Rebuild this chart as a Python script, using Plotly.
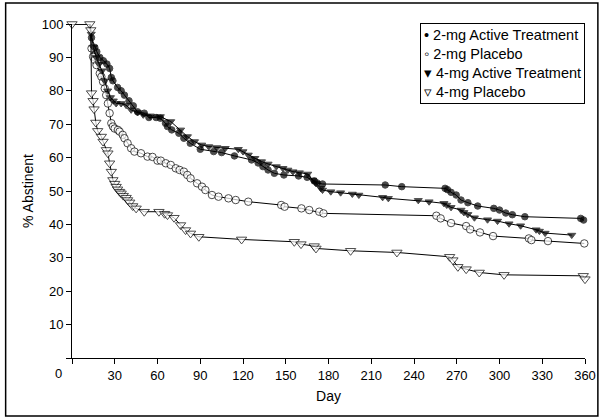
import plotly.graph_objects as go

# ---- data (day, % abstinent) ----
a2_day = [0, 12.5, 13.7, 16, 17.4, 19.5, 22, 24.5, 26.4, 27.6, 28.7, 32, 34.5, 36.8, 40, 43, 46, 50.7, 54, 59,
          62, 65.6, 67, 70, 75, 78.5, 83, 90, 99.4, 105, 114, 126, 130.6, 134, 137.6, 142, 148.7, 159, 165,
          170, 172, 175.8, 219.8, 231.4, 261.8, 263.5, 266, 269.6, 273, 277.8, 284.7, 296, 300, 304.4, 309,
          317.8, 357, 359]
a2_pct = [100, 100, 95.9, 93, 91.7, 90, 89, 88, 86.7, 84, 83, 81, 80, 78.7, 77, 75.5, 73.7, 73.3, 72, 72,
          71.8, 70.3, 69.3, 68.3, 67.3, 65.8, 64.3, 62.5, 61.8, 61.5, 60.5, 59.3, 58.4, 57.3, 56.3, 55.3, 54.8, 54.5, 54.1,
          53, 52.4, 52.1, 51.8, 51.3, 50.8, 50.4, 49.6, 48.8, 47.3, 46.5, 45.5, 44.8, 44.3, 43.4, 42.9,
          42.3, 41.8, 41.3]

p2_day = [0, 12.5, 13.7, 14.8, 16, 17.2, 19.5, 20.6, 21.8, 23, 24, 25.2, 26.4, 27.6, 28.7, 29.9, 32.2, 33.4,
          35.6, 36.8, 39, 41.5, 43.8, 48.4, 53, 56.5, 60, 62.3, 65.8, 69.3, 72.8, 75.5, 78.5, 80.9, 83.2,
          87.8, 91.2, 93.6, 98.2, 102.8, 109.8, 114.9, 123.7, 146.8, 149.2, 161, 166.5, 173.5, 176.5,
          255.7, 258.7, 266, 276.6, 279.4, 286.3, 295.5, 320.6, 322.4, 334, 359.5]
p2_pct = [100, 100, 92.7, 90.2, 89.2, 87.7, 85.2, 84.2, 82.7, 80.7, 78.7, 76.2, 73.3, 70.3, 69.3, 68.7, 68.3, 67.8,
          66.8, 65.8, 64.3, 62.8, 61.8, 61.3, 60.3, 60.2, 59.1, 59.1, 58.3, 57.8, 56.8, 56.3, 55.8, 54.8, 53.8,
          52.3, 51.3, 50.3, 48.8, 48.3, 47.8, 47.3, 46.8, 45.8, 45.3, 44.8, 44.3, 43.8, 43.3,
          42.6, 41.8, 40.4, 39.5, 38.5, 37.6, 36.5, 35.8, 35.3, 35, 34.3]

a4_day = [0, 12.5, 13.5, 15, 17, 19, 21, 23, 25, 27, 29, 31, 34.5, 38, 41.5, 46, 50, 55, 62, 69.3, 76.2, 81,
          86, 91, 96, 101.7, 107.5, 116.7, 120, 123.7, 128.3, 133, 137.6, 143.4, 148, 151.5, 155, 159.6,
          165.4, 168.9, 171.2, 174.6, 175.8, 181.6, 188.5, 196.7, 201.3, 218, 222, 243, 250.6, 261, 263,
          266, 273, 275, 277.8, 282.4, 291.6, 298.6, 306.7, 314.8, 325.7, 328, 332, 350.7]
a4_pct = [100, 100, 97, 93, 90, 88, 86, 83, 80, 78, 77, 76.2, 76.2, 75.7, 74.3, 73.5, 72.8, 72.5, 72.3, 70.8, 68.3, 66.3,
          64.8, 63.8, 63.3, 63, 62.8, 62.5, 61.8, 60.8, 59.8, 58.8, 58.1, 57.3, 56.8, 56.3, 55.8, 55.5,
          55.1, 53.3, 52.3, 50.8, 50.3, 49.8, 49.5, 49.1, 48.8, 48.1, 47.8, 47.2, 46.8, 46.3, 45.8,
          45.1, 44.3, 43.6, 43, 42, 41.4, 41, 40.2, 39.6, 38.4, 38, 37.4, 36.8]

p4_day = [0, 12.5, 13.2, 13.7, 14.8, 15.5, 16.7, 18, 20.6, 21.8, 24.1, 25.2, 26.4, 27.6, 28.7, 30, 31, 32, 33.4,
          34.5, 36, 38, 39, 40.5, 42.6, 45, 50.7, 61, 65, 67, 71.6, 76.2, 79.7, 83.2, 89, 119, 156, 160.7,
          170, 171.2, 195.5, 228, 265, 267.3, 270.8, 276.6, 285.8, 303.2, 358.8, 360]
p4_pct = [100, 100, 98.2, 79.3, 77, 74.5, 70.5, 68, 66.3, 64.8, 62.3, 61.3, 58.3, 55.8, 53.3, 52.2, 51.3, 50.5, 49.8,
          49.3, 48.6, 48, 47.3, 46.6, 45.5, 44.8, 43.8, 43.8, 43.2, 42.8, 42, 39.8, 38.3, 37.3, 36.3, 35.5, 34.8, 34.1,
          33.5, 32.8, 32.1, 31.6, 30.3, 29.3, 27.3, 26.6, 25.6, 24.9, 24.6, 23.6]

series_names = ["2-mg Active Treatment", "2-mg Placebo", "4-mg Active Treatment", "4-mg Placebo"]
legend_glyphs = ["\u2022", "\u25e6", "\u25be", "\u25bf"]
x_ticks = [0, 30, 60, 90, 120, 150, 180, 210, 240, 270, 300, 330, 360]
y_ticks = [0, 10, 20, 30, 40, 50, 60, 70, 80, 90, 100]

FONT = "Liberation Sans, Arial, Helvetica, sans-serif"

styles = [
    dict(symbol="circle", size=6.5, color="black", line=dict(color="black", width=1)),
    dict(symbol="circle", size=7.5, color="white", line=dict(color="black", width=1)),
    dict(symbol="triangle-down", size=7, color="black", line=dict(color="black", width=1)),
    dict(symbol="triangle-down", size=9, color="white", line=dict(color="black", width=1)),
]

data = [(a2_day, a2_pct), (p2_day, p2_pct), (a4_day, a4_pct), (p4_day, p4_pct)]

fig = go.Figure()
for i, ((xd, yd), name, st) in enumerate(zip(data, series_names, styles)):
    sizes = [st["size"]] * len(xd)
    if i != 3:
        sizes[0] = 0
        sizes[1] = 0
    m = dict(st)
    m["size"] = sizes
    fig.add_trace(go.Scatter(x=xd, y=yd, mode="lines+markers", name=name, showlegend=False,
                             line=dict(color="black", width=1), marker=m, cliponaxis=False))

fig.update_layout(
    width=608, height=420,
    margin=dict(l=72, r=18, t=24, b=62),
    paper_bgcolor="white", plot_bgcolor="white",
    font=dict(family=FONT, size=13, color="black"),
    showlegend=False,
    xaxis=dict(range=[0, 360], tickmode="array", tickvals=x_ticks,
               ticktext=[""] + [str(v) for v in x_ticks[1:]],
               ticks="outside", ticklen=5, tickcolor="black", showline=True, linecolor="black", linewidth=1,
               showgrid=False, zeroline=False, title=dict(text="Day", standoff=9, font=dict(size=14)),
               tickfont=dict(size=13)),
    yaxis=dict(range=[0, 100], tickmode="array", tickvals=y_ticks,
               ticktext=[""] + [str(v) for v in y_ticks[1:]],
               ticks="outside", ticklen=5, tickcolor="black", showline=True, linecolor="black", linewidth=1,
               showgrid=False, zeroline=False, title=dict(text="% Abstinent", standoff=4, font=dict(size=14)),
               tickfont=dict(size=13)),
)

# corner "0" label, set off to the left as in the reference
fig.add_annotation(x=0, y=0, xref="x", yref="y", text="0", showarrow=False,
                   xshift=-14, yshift=-15, font=dict(family=FONT, size=13))

# boxed key, written as text
legend_text = "<br>".join(g + " " + n for g, n in zip(legend_glyphs, series_names))
fig.add_annotation(x=1.0, y=1.004, xref="paper", yref="paper", xanchor="right", yanchor="top",
                   text=legend_text, showarrow=False, align="left",
                   font=dict(family=FONT, size=14.5), bgcolor="white",
                   bordercolor="black", borderwidth=1, borderpad=3)

# outer frame around the whole figure
fig.add_shape(type="rect", xref="paper", yref="paper",
              x0=(5 - 72) / 518, x1=(603 - 72) / 518, y0=(358 - 416) / 334, y1=(358 - 3) / 334,
              line=dict(color="black", width=1.5), fillcolor="rgba(0,0,0,0)", layer="below")

fig.write_html("out.html", config={"displayModeBar": False},
               post_script="document.body.style.margin='0';document.body.style.padding='0';")
